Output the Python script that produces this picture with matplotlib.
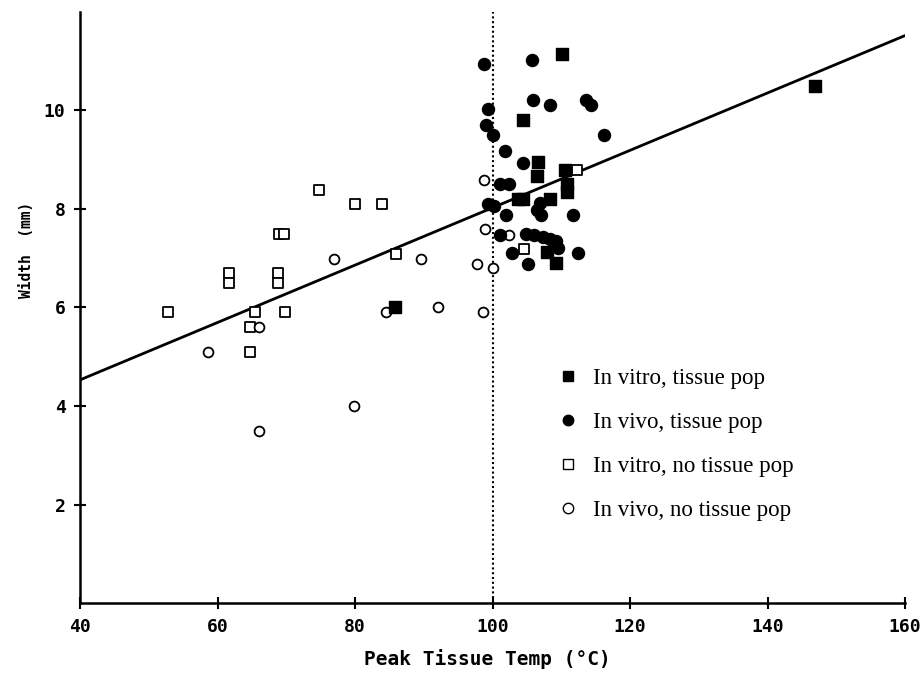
import matplotlib
matplotlib.use("Agg")
import matplotlib.pyplot as plt
from matplotlib.lines import Line2D

# In vitro, tissue pop (filled squares)
vitro_pop_x = [110.1, 104.5, 106.6, 106.4, 110.5, 110.8, 110.8, 103.7, 104.4, 108.3, 107.9, 109.2, 85.8, 146.9]
vitro_pop_y = [11.15, 9.81, 8.95, 8.67, 8.80, 8.50, 8.35, 8.20, 8.20, 8.20, 7.12, 6.90, 6.00, 10.50]

# In vivo, tissue pop (filled circles)
vivo_pop_x = [98.8, 105.8, 105.9, 108.3, 113.6, 114.3, 99.3, 99.0, 100.0, 116.2, 101.8, 104.4,
              101.1, 102.4, 99.3, 100.2, 106.9, 106.4, 107.1, 101.9, 111.7, 101.1, 104.9, 106.1,
              107.3, 108.4, 109.3, 109.5, 102.9, 112.4, 105.1]
vivo_pop_y = [10.94, 11.03, 10.21, 10.11, 10.21, 10.11, 10.02, 9.71, 9.50, 9.50, 9.18, 8.94,
              8.50, 8.50, 8.10, 8.05, 8.12, 7.98, 7.88, 7.88, 7.88, 7.48, 7.50, 7.47,
              7.43, 7.40, 7.34, 7.20, 7.10, 7.10, 6.88]

# In vitro, no tissue pop (open squares)
vitro_nopop_x = [52.8, 61.6, 61.6, 65.5, 64.7, 64.7, 68.8, 68.8, 69.0, 69.6, 69.8, 74.7, 80.0,
                 83.9, 85.9, 112.3, 104.6]
vitro_nopop_y = [5.90, 6.69, 6.49, 5.90, 5.60, 5.10, 6.69, 6.49, 7.49, 7.49, 5.90, 8.39, 8.10,
                 8.10, 7.08, 8.79, 7.18]

# In vivo, no tissue pop (open circles)
vivo_nopop_x = [58.6, 66.1, 66.1, 77.0, 89.6, 84.5, 92.0, 79.9, 98.8, 98.9, 97.7, 100.1, 98.6, 102.4]
vivo_nopop_y = [5.10, 5.60, 3.50, 6.98, 6.98, 5.90, 6.01, 4.00, 8.59, 7.59, 6.88, 6.80, 5.90, 7.48]

# regression line end points
fit_x = [40, 160]
fit_y = [4.53, 11.52]

fig = plt.figure(figsize=(9.23, 6.74), dpi=100)
ax = fig.add_axes([0.0867, 0.1053, 0.8938, 0.877])

ax.plot(fit_x, fit_y, color="black", lw=2.0, zorder=2)
ax.axvline(100, color="black", lw=1.5, ls=(0, (1, 1.3)), zorder=1)

ax.scatter(vitro_nopop_x, vitro_nopop_y, marker="s", s=55, facecolors="white",
           edgecolors="black", linewidths=1.3, zorder=3)
ax.scatter(vivo_nopop_x, vivo_nopop_y, marker="o", s=50, facecolors="white",
           edgecolors="black", linewidths=1.3, zorder=3)
ax.scatter(vivo_pop_x, vivo_pop_y, marker="o", s=75, color="black", zorder=4)
ax.scatter(vitro_pop_x, vitro_pop_y, marker="s", s=70, color="black", zorder=4)

ax.set_xlim(40, 160)
ax.set_ylim(0, 12)
ax.set_xticks([40, 60, 80, 100, 120, 140, 160])
ax.set_yticks([2, 4, 6, 8, 10])
for side in ["top", "right"]:
    ax.spines[side].set_visible(False)
for side in ["left", "bottom"]:
    ax.spines[side].set_linewidth(1.8)
ax.tick_params(direction="inout", length=9, width=1.5, labelsize=13, pad=6)
for lab in ax.get_xticklabels() + ax.get_yticklabels():
    lab.set_fontweight("bold")
    lab.set_family("DejaVu Sans Mono")

fig.text(0.528, 0.022, "Peak Tissue Temp (\u00b0C)", ha="center", va="center",
         fontsize=14, fontweight="bold", family="DejaVu Sans Mono")
fig.text(0.029, 0.63, "Width  (mm)", rotation=90, ha="center", va="center",
         fontsize=10.5, fontweight="bold", family="DejaVu Sans Mono")

handles = [
    Line2D([], [], ls="none", marker="s", ms=7, color="black", label="In vitro, tissue pop"),
    Line2D([], [], ls="none", marker="o", ms=7.5, color="black", label="In vivo, tissue pop"),
    Line2D([], [], ls="none", marker="s", ms=7, mfc="white", mec="black", mew=1.0,
           label="In vitro, no tissue pop"),
    Line2D([], [], ls="none", marker="o", ms=7.5, mfc="white", mec="black", mew=1.0,
           label="In vivo, no tissue pop"),
]
ax.legend(handles=handles, loc="upper left", bbox_to_anchor=(0.571, 0.413), frameon=False,
          prop={"family": "Liberation Serif", "size": 16.5}, labelspacing=1.0,
          handlelength=0.7, handletextpad=0.75, borderaxespad=0)

fig.savefig("out.png", dpi=100)
